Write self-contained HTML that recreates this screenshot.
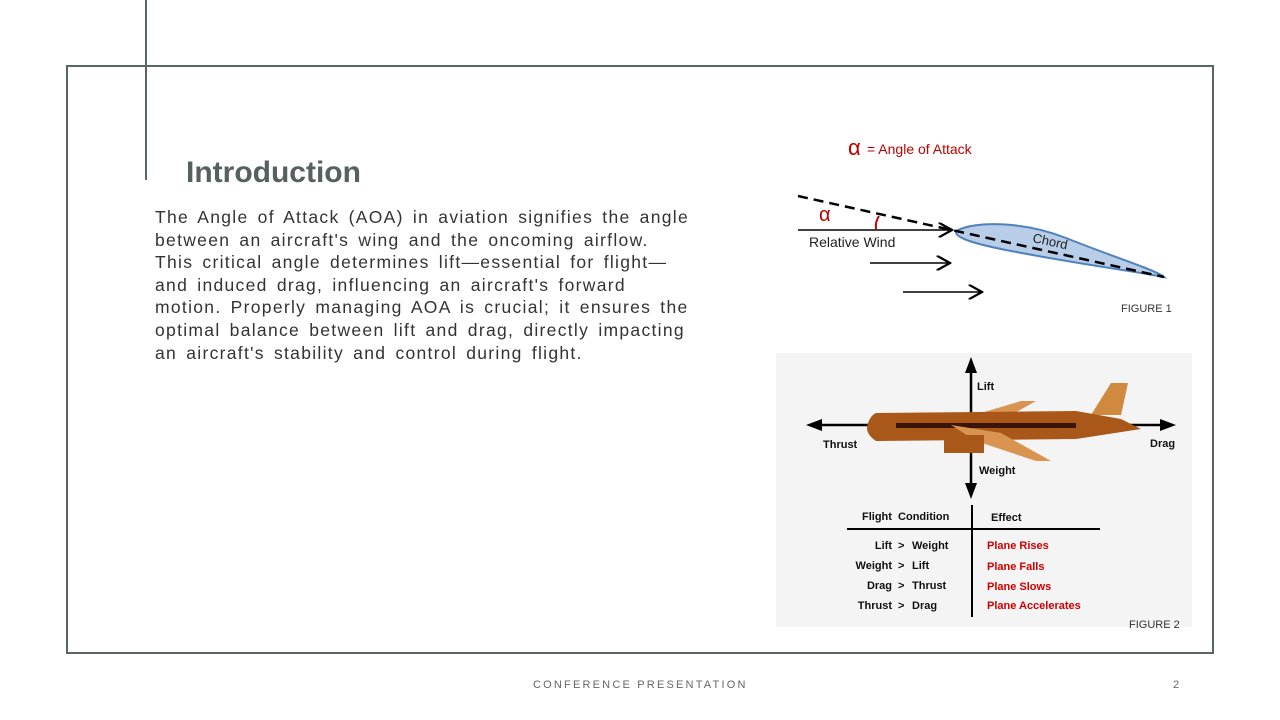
<!DOCTYPE html>
<html><head><meta charset="utf-8"><style>
body{margin:0;width:1280px;height:720px;background:#fff;position:relative;overflow:hidden;font-family:"Liberation Sans",sans-serif}
.abs{position:absolute}
</style></head><body>
<div class="abs" style="left:66px;top:65px;width:1148px;height:589px;border:2px solid #5a6664;box-sizing:border-box"></div>
<div class="abs" style="left:145px;top:0;width:2px;height:180px;background:#5a6664"></div>
<div class="abs" style="left:186px;top:156px;font-size:30px;font-weight:bold;color:#55605f">Introduction</div>
<div class="abs" style="left:155px;top:206px;font-size:17.5px;line-height:22.6px;color:#333;letter-spacing:1.3px;word-spacing:3px;white-space:nowrap">The Angle of Attack (AOA) in aviation signifies the angle<br>between an aircraft's wing and the oncoming airflow.<br>This critical angle determines lift—essential for flight—<br>and induced drag, influencing an aircraft's forward<br>motion. Properly managing AOA is crucial; it ensures the<br>optimal balance between lift and drag, directly impacting<br>an aircraft's stability and control during flight.</div>

<svg class="abs" style="left:776px;top:130px" width="416" height="200" viewBox="0 0 416 200">
<defs><marker id="ah" markerWidth="10" markerHeight="10" refX="9" refY="5" orient="auto"><path d="M0,0 L9,5 L0,10" fill="none" stroke="#000" stroke-width="1.5"/></marker></defs>
<text x="72" y="25" font-size="22" fill="#c00000">α</text>
<text x="91" y="24" font-size="14" fill="#c00000">= Angle of Attack</text>
<path d="M180,101 C200,90 250,92 290,108 C340,128 380,140 388,147 C350,140 290,132 230,120 C200,114 178,108 180,101Z" fill="#b8cde8" stroke="#4f81bd" stroke-width="2"/>
<line x1="22" y1="66" x2="388" y2="147" stroke="#000" stroke-width="2.5" stroke-dasharray="10,6"/>
<line x1="22" y1="100" x2="176" y2="100" stroke="#000" stroke-width="1.5" marker-end="url(#ah)"/>
<line x1="94" y1="133" x2="174" y2="133" stroke="#000" stroke-width="1.5" marker-end="url(#ah)"/>
<line x1="127" y1="162" x2="206" y2="162" stroke="#000" stroke-width="1.5" marker-end="url(#ah)"/>
<path d="M103,86 Q99,92 100,99" stroke="#c00000" stroke-width="2" fill="none"/>
<text x="43" y="91" font-size="20" fill="#c00000">α</text>
<text x="33" y="117" font-size="14" fill="#222">Relative Wind</text>
<text x="256" y="112" font-size="13" fill="#222" transform="rotate(12 256 112)">Chord</text>
<text x="345" y="182" font-size="11" fill="#333">FIGURE 1</text>
</svg>

<svg class="abs" style="left:776px;top:353px" width="416" height="274" viewBox="0 0 416 274">
<rect width="416" height="274" fill="#f4f4f4"/>
<g stroke="#000" stroke-width="2.5">
<line x1="195" y1="14" x2="195" y2="138"/><line x1="40" y1="72" x2="390" y2="72"/>
</g>
<path d="M195,4 L189,20 L201,20Z M195,146 L189,130 L201,130Z M30,72 L46,66 L46,78Z M400,72 L384,66 L384,78Z"/>
<path d="M335,30 L352,30 L345,62 L315,62Z" fill="#d08a40"/>
<path d="M205,60 L245,48 L260,48 L235,62Z" fill="#d89450"/>
<path d="M100,60 L300,58 L345,66 L365,76 L300,86 L100,88 Q88,80 92,70 Q95,62 100,60Z" fill="#a9581a"/>
<rect x="120" y="70" width="180" height="5" fill="#3a1505"/>
<path d="M175,72 L225,80 L275,108 L260,108 L200,88Z" fill="#d89450"/>
<rect x="168" y="82" width="40" height="18" fill="#a9581a"/>
<g font-size="11" font-weight="bold" fill="#111">
<text x="201" y="37">Lift</text><text x="47" y="95">Thrust</text><text x="374" y="94">Drag</text><text x="203" y="121">Weight</text>
<text x="86" y="167" style="white-space:pre" xml:space="preserve">Flight  Condition</text><text x="215" y="168">Effect</text>
<text x="116" y="196" text-anchor="end">Lift</text><text x="122" y="196">&gt;</text><text x="136" y="196">Weight</text>
<text x="116" y="216" text-anchor="end">Weight</text><text x="122" y="216">&gt;</text><text x="136" y="216">Lift</text>
<text x="116" y="236" text-anchor="end">Drag</text><text x="122" y="236">&gt;</text><text x="136" y="236">Thrust</text>
<text x="116" y="256" text-anchor="end">Thrust</text><text x="122" y="256">&gt;</text><text x="136" y="256">Drag</text>
</g>
<g font-size="11" font-weight="bold" fill="#d00000" style="white-space:pre" xml:space="preserve">
<text x="211" y="196">Plane  Rises</text><text x="211" y="217">Plane  Falls</text><text x="211" y="237">Plane  Slows</text><text x="211" y="256">Plane  Accelerates</text>
</g>
<line x1="71" y1="176" x2="324" y2="176" stroke="#000" stroke-width="2"/>
<line x1="196" y1="152" x2="196" y2="264" stroke="#000" stroke-width="2"/>
</svg>
<div class="abs" style="left:1129px;top:619px;font-size:11px;color:#333">FIGURE 2</div>

<div class="abs" style="left:533px;top:679px;font-size:11px;letter-spacing:2.2px;color:#666">CONFERENCE PRESENTATION</div>
<div class="abs" style="left:1173px;top:679px;font-size:11px;color:#666">2</div>
</body></html>
